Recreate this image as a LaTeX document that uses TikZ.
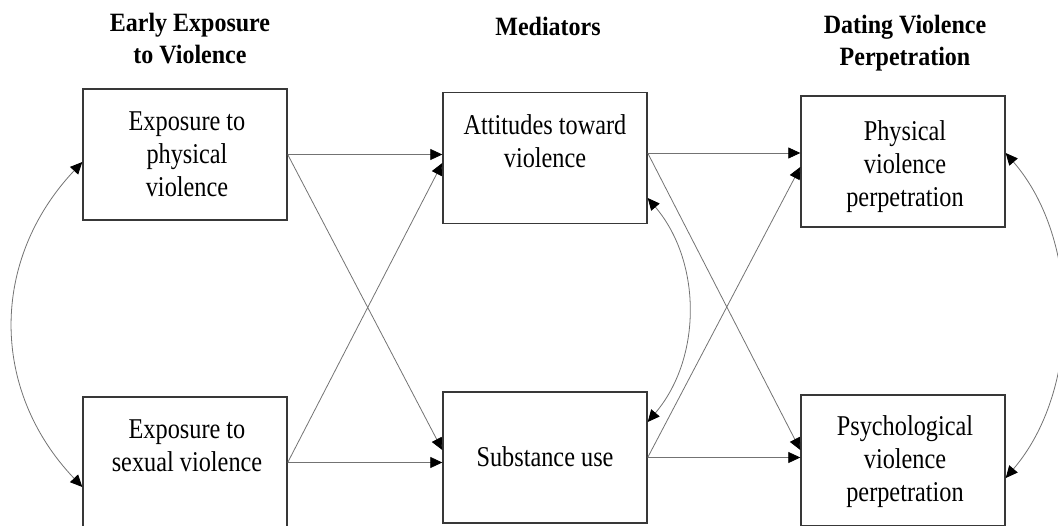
\documentclass[tikz,border=0pt]{standalone}
\usepackage{fontspec}
\usepackage{graphicx}
\setmainfont{Liberation Serif}
\usetikzlibrary{arrows.meta}
\newcommand{\boxtext}[1]{\scalebox{1}[1.18]{\fontsize{24.3}{28}\selectfont\begin{tabular}{@{}c@{}}#1\end{tabular}}}
\newcommand{\headtext}[1]{\scalebox{1}[1.1]{\fontsize{24}{29}\selectfont\bfseries\begin{tabular}{@{}c@{}}#1\end{tabular}}}
\begin{document}
\begin{tikzpicture}[x=1pt,y=-1pt,
  box/.style={draw=black!78,line width=1.4pt,minimum width=204pt,minimum height=131pt,inner sep=0pt},
  txt/.style={inner sep=0pt},
  conn/.style={draw=black!55,line width=0.8pt,-{Triangle[length=12pt,width=11pt,color=black]}},
  biconn/.style={draw=black!55,line width=0.8pt,{Triangle[length=12pt,width=11pt,color=black]}-{Triangle[length=12pt,width=11pt,color=black]}}]
\clip (0,0) rectangle (1058,525);
\useasboundingbox (0,0) rectangle (1058,525);
% titles
\node[txt] (h1) at (190,41) {\headtext{Early Exposure\\to Violence}};
\node[txt] (h2) at (548,29) {\headtext{Mediators}};
\node[txt] (h3) at (905,43) {\headtext{Dating Violence\\Perpetration}};
% boxes
\node[box] (tl) at (185,154.5) {};
\node[box] (bl) at (185,462.5) {};
\node[box] (att) at (545,158) {};
\node[box] (sub) at (545,457.5) {};
\node[box] (phy) at (903,161.5) {};
\node[box] (psy) at (903,460.5) {};
% box texts
\node[txt] (ttl1) at (187,157) {\boxtext{Exposure to\\physical\\violence}};
\node[txt] (tbl1) at (187,448) {\boxtext{Exposure to\\sexual violence}};
\node[txt] (tatt) at (545,144) {\boxtext{Attitudes toward\\violence}};
\node[txt] (tsub) at (545,460) {\boxtext{Substance use}};
\node[txt] (tphy) at (905,167) {\boxtext{Physical\\violence\\perpetration}};
\node[txt] (tpsy) at (905,462) {\boxtext{Psychological\\violence\\perpetration}};
% connectors
\draw[conn] (tl.east) -- (tl.east -| att.west);
\draw[conn] (tl.east) -- ([yshift=7.5pt]sub.west);
\draw[conn] (bl.east) -- (bl.east -| sub.west);
\draw[conn] (bl.east) -- ([yshift=-5pt]att.west);
\draw[conn] ([yshift=5pt]att.east) -- ([yshift=5pt]att.east -| phy.west);
\draw[conn] ([yshift=5pt]att.east) -- ([yshift=10.5pt]psy.west);
\draw[conn] (sub.east) -- (sub.east -| psy.west);
\draw[conn] (sub.east) -- ([yshift=-5.5pt]phy.west);
% correlations
\draw[biconn] ([yshift=-7.5pt]tl.west) .. controls (-10,260) and (-10,390) .. ([yshift=-24.5pt]bl.west);
\draw[biconn] ([yshift=-40pt]att.east) .. controls (702,262) and (702,358) .. ([yshift=35.5pt]sub.east);
\draw[biconn] ([yshift=8.5pt]phy.east) .. controls (1081,240) and (1081,390) .. ([yshift=-17.5pt]psy.east);
\end{tikzpicture}
\end{document}
